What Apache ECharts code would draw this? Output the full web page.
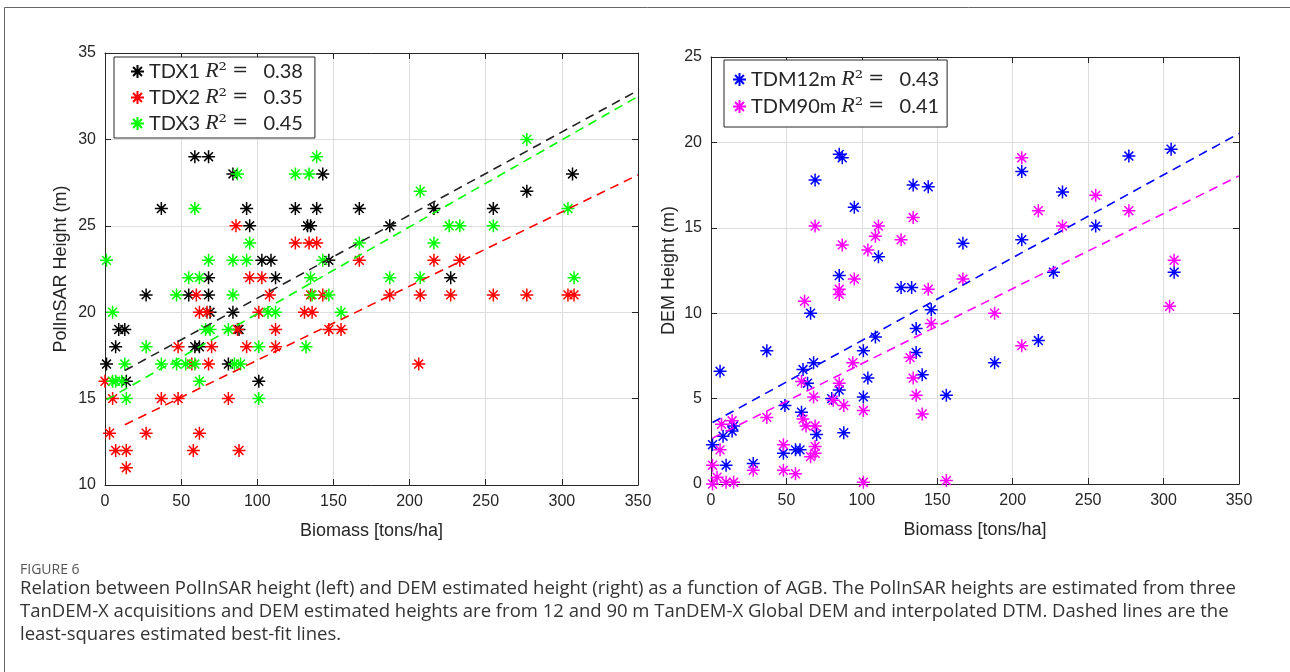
<!DOCTYPE html>
<html>
<head>
<meta charset="utf-8">
<script src="https://cdn.jsdelivr.net/npm/echarts@6/dist/echarts.min.js"></script>
<style>
  html, body { margin: 0; padding: 0; background: #ffffff; }
  #chart { width: 1290px; height: 672px; }
</style>
</head>
<body>
<div id="chart"></div>
<script>
// ---- PolInSAR heights (m) against biomass (tons/ha) ----
const tdxNames = ['TDX1', 'TDX2', 'TDX3'];
const tdxColors = ['#000000', '#ff0000', '#00ff00'];
const tdxR2 = ['0.38', '0.35', '0.45'];
const tdx1 = [[59,29],[68,29],[84,28],[143,28],[307,28],[277,27],[37,26],[93,26],[125,26],[139,26],[167,26],[216,26],[255,26],
  [95,25],[133,25],[135,25],[187,25],[103,23],[109,23],[147,23],[68,22],[112,22],[227,22],[27,21],[55,21],[68,21],
  [69,20],[84,20],[9,19],[13,19],[88,19],[7,18],[59,18],[62,18],[1,17],[81,17],[14,16],[101,16]];
const tdx2 = [[86,25],[125,24],[134,24],[139,24],[167,23],[216,23],[233,23],[95,22],[103,22],[60,21],[108,21],[135,21],
  [143,21],[187,21],[207,21],[227,21],[255,21],[277,21],[304,21],[308,21],[62,20],[67,20],[101,20],[131,20],[136,20],
  [87,19],[112,19],[147,19],[155,19],[48,18],[70,18],[93,18],[112,18],[57,17],[68,17],[206,17],[0,16],[5,15],[37,15],
  [48,15],[81,15],[3,13],[27,13],[62,13],[7,12],[14,12],[58,12],[88,12],[14,11]];
const tdx3 = [[277,30],[139,29],[87,28],[125,28],[134,28],[207,27],[59,26],[304,26],[226,25],[233,25],[255,25],[95,24],
  [167,24],[216,24],[1,23],[68,23],[84,23],[93,23],[143,23],[55,22],[62,22],[135,22],[187,22],[207,22],[308,22],
  [47,21],[84,21],[136,21],[147,21],[5,20],[107,20],[112,20],[155,20],[66,19],[69,19],[81,19],[27,18],[101,18],
  [132,18],[13,17],[37,17],[47,17],[53,17],[59,17],[85,17],[89,17],[5,16],[7,16],[11,16],[62,16],[14,15],[101,15]];
// least-squares lines: height = intercept + slope * biomass, drawn from xStart to the axis end
const tdxFitIntercept = [16.0, 12.93, 14.88];
const tdxFitSlope = [0.0481, 0.0429, 0.0503];
const tdxFitStart = [13, 13, 1];

// ---- DEM heights (m) against biomass (tons/ha) ----
const tdmNames = ['TDM12m', 'TDM90m'];
const tdmColors = ['#0000ff', '#ff00ff'];
const tdmR2 = ['0.43', '0.41'];
const tdm12 = [[85,19.3],[87,19.1],[69,17.8],[95,16.2],[111,13.3],[85,12.2],[66,10.0],[109,8.6],[101,7.8],[37,7.8],
  [6,6.6],[61,6.7],[68,7.1],[104,6.2],[64,5.9],[85,5.5],[101,5.1],[80,5.0],[49,4.6],[60,4.2],[15,3.4],[14,3.1],
  [70,2.9],[88,3.0],[1,2.3],[8,2.8],[48,1.8],[56,2.0],[59,2.0],[10,1.1],[28,1.2],[206,18.3],[277,19.2],[305,19.6],
  [134,17.5],[144,17.4],[233,17.1],[255,15.1],[167,14.1],[206,14.3],[307,12.4],[227,12.4],[126,11.5],[133,11.5],
  [146,10.2],[136,9.1],[217,8.4],[136,7.7],[188,7.1],[140,6.4],[156,5.2]];
const tdm90 = [[69,15.1],[87,14.0],[104,13.7],[109,14.5],[111,15.1],[95,12.0],[85,11.4],[85,11.1],[62,10.7],[94,7.1],
  [60,6.0],[85,5.9],[68,5.1],[81,4.9],[88,4.6],[101,4.3],[37,3.9],[61,3.8],[7,3.5],[14,3.7],[63,3.4],[69,3.4],[6,2.0],
  [48,2.3],[69,2.2],[69,1.8],[66,1.6],[1,1.1],[28,0.8],[48,0.8],[56,0.6],[4,0.4],[1,0],[10,0.1],[15,0.1],[101,0.1],
  [206,19.1],[255,16.9],[217,16.0],[277,16.0],[134,15.6],[233,15.1],[126,14.3],[307,13.1],[167,12.0],[144,11.4],
  [304,10.4],[188,10.0],[146,9.4],[206,8.1],[132,7.4],[134,6.2],[136,5.2],[140,4.1],[156,0.2]];
const tdmFitIntercept = [3.55, 2.64];
const tdmFitSlope = [0.0485, 0.044];
const tdmFitStart = [1, 1];

// ---- axis ranges ----
const biomassMax = 350, biomassStep = 50;
const leftYMin = 10, leftYMax = 35, leftYStep = 5;
const rightYMin = 0, rightYMax = 25, rightYStep = 5;

const captionTitle = 'FIGURE 6';
const captionLines = [
  'Relation between PolInSAR height (left) and DEM estimated height (right) as a function of AGB. The PolInSAR heights are estimated from three',
  'TanDEM-X acquisitions and DEM estimated heights are from 12 and 90 m TanDEM-X Global DEM and interpolated DTM. Dashed lines are the',
  'least-squares estimated best-fit lines.'
];

// asterisk marker: horizontal, vertical and two diagonal strokes
const asterisk = 'path://M5,0L5,10M0,5L10,5M1.6,1.6L8.4,8.4M1.6,8.4L8.4,1.6';
const axisInk = '#262626';
const gridInk = '#dddddd';
const axisFont = 'Liberation Sans';

function bottomAxis(grid, name) {
  return {
    gridIndex: grid, type: 'value', position: 'bottom', min: 0, max: biomassMax, interval: biomassStep,
    name: name, nameLocation: 'middle', nameGap: 37,
    nameTextStyle: { fontFamily: axisFont, fontSize: 18, color: axisInk },
    axisLine: { show: true, onZero: false, lineStyle: { color: axisInk, width: 1 } },
    axisTick: { show: true, inside: true, length: 6, lineStyle: { color: axisInk } },
    axisLabel: { fontFamily: axisFont, fontSize: 16, color: axisInk, margin: 9 },
    splitLine: { show: true, lineStyle: { color: gridInk, width: 1 } }
  };
}
function topAxis(grid) {
  return {
    gridIndex: grid, type: 'value', position: 'top', min: 0, max: biomassMax, interval: biomassStep,
    axisLine: { show: true, onZero: false, lineStyle: { color: axisInk, width: 1 } },
    axisTick: { show: true, inside: true, length: 6, lineStyle: { color: axisInk } },
    axisLabel: { show: false }, splitLine: { show: false }
  };
}
function leftAxis(grid, min, max, step, name, gap) {
  return {
    gridIndex: grid, type: 'value', position: 'left', min: min, max: max, interval: step,
    name: name, nameLocation: 'middle', nameGap: gap, nameRotate: 90,
    nameTextStyle: { fontFamily: axisFont, fontSize: 18, color: axisInk },
    axisLine: { show: true, onZero: false, lineStyle: { color: axisInk, width: 1 } },
    axisTick: { show: true, inside: true, length: 6, lineStyle: { color: axisInk } },
    axisLabel: { fontFamily: axisFont, fontSize: 16, color: axisInk, margin: 9 },
    splitLine: { show: true, lineStyle: { color: gridInk, width: 1 } }
  };
}
function rightAxis(grid, min, max, step) {
  return {
    gridIndex: grid, type: 'value', position: 'right', min: min, max: max, interval: step,
    axisLine: { show: true, onZero: false, lineStyle: { color: axisInk, width: 1 } },
    axisTick: { show: true, inside: true, length: 6, lineStyle: { color: axisInk } },
    axisLabel: { show: false }, splitLine: { show: false }
  };
}

function scatter(name, data, color, xi, yi) {
  return {
    name: name, type: 'scatter', xAxisIndex: xi, yAxisIndex: yi, data: data,
    symbol: asterisk, symbolSize: 13,
    itemStyle: { color: 'rgba(0,0,0,0)', borderColor: color, borderWidth: 1.5, opacity: 1 },
    emphasis: { disabled: true }, silent: true, z: 3
  };
}
function fitLine(intercept, slope, start, color, xi, yi) {
  return {
    type: 'line', xAxisIndex: xi, yAxisIndex: yi,
    data: [[start, intercept + slope * start], [biomassMax, intercept + slope * biomassMax]],
    showSymbol: false, symbol: 'none', silent: true, z: 4,
    lineStyle: { color: color, width: 1.6, type: [9, 6] }
  };
}

const richLegend = {
  it: { fontFamily: 'Liberation Serif', fontStyle: 'italic', fontSize: 22, color: axisInk, lineHeight: 25 },
  sup: { fontFamily: 'DejaVu Serif', fontSize: 21, color: axisInk, lineHeight: 25 },
  eq: { fontFamily: 'DejaVu Serif', fontSize: 19, color: axisInk, lineHeight: 25 }
};
function legendText(names, values, gap) {
  return n => n + ' {it|R}{sup|\u00b2} {eq|=}' + gap + values[names.indexOf(n)];
}

const series = [];
[tdx1, tdx2, tdx3].forEach((d, i) => series.push(scatter(tdxNames[i], d, tdxColors[i], 0, 0)));
[tdm12, tdm90].forEach((d, i) => series.push(scatter(tdmNames[i], d, tdmColors[i], 2, 2)));
tdxFitIntercept.forEach((b, i) => series.push(fitLine(b, tdxFitSlope[i], tdxFitStart[i], i === 0 ? '#222222' : tdxColors[i], 0, 0)));
tdmFitIntercept.forEach((b, i) => series.push(fitLine(b, tdmFitSlope[i], tdmFitStart[i], tdmColors[i], 2, 2)));

const captionGraphics = [
  { type: 'polyline', shape: { points: [[4.5, 672], [4.5, 7.5], [1290, 7.5]] }, style: { stroke: '#666666', lineWidth: 1, fill: null }, silent: true },
  { type: 'text', left: 20, top: 563, style: { text: captionTitle, fontFamily: 'Open Sans', fontSize: 14, fill: '#555555' }, silent: true }
];
captionLines.forEach((t, i) => captionGraphics.push({
  type: 'text', left: 20, top: 579 + i * 23,
  style: { text: t, fontFamily: 'Open Sans', fontSize: 18.5, fill: '#333333' }, silent: true
}));

const chart = echarts.init(document.getElementById('chart'), null, { renderer: 'canvas' });
chart.setOption({
  animation: false,
  backgroundColor: '#ffffff',
  grid: [
    { left: 105, top: 53, width: 533, height: 432, outerBoundsMode: 'none', containLabel: false },
    { left: 711, top: 57, width: 528, height: 427, outerBoundsMode: 'none', containLabel: false }
  ],
  xAxis: [bottomAxis(0, 'Biomass [tons/ha]'), topAxis(0), bottomAxis(1, 'Biomass [tons/ha]'), topAxis(1)],
  yAxis: [
    leftAxis(0, leftYMin, leftYMax, leftYStep, 'PolInSAR Height (m)', 35), rightAxis(0, leftYMin, leftYMax, leftYStep),
    leftAxis(1, rightYMin, rightYMax, rightYStep, 'DEM Height (m)', 33), rightAxis(1, rightYMin, rightYMax, rightYStep)
  ],
  legend: [
    {
      data: tdxNames, left: 114, top: 57, orient: 'vertical', itemGap: 1, itemWidth: 13, itemHeight: 13,
      backgroundColor: '#ffffff', borderColor: axisInk, borderWidth: 1, borderRadius: 0, padding: [2, 12, 2, 16],
      selectedMode: false, formatter: legendText(tdxNames, tdxR2, '   '),
      textStyle: { fontFamily: 'Lato', fontSize: 20, color: axisInk, lineHeight: 25, rich: richLegend }
    },
    {
      data: tdmNames, left: 724, top: 60, orient: 'vertical', itemGap: 2, itemWidth: 13, itemHeight: 13,
      backgroundColor: '#ffffff', borderColor: axisInk, borderWidth: 1, borderRadius: 0, padding: [7, 8, 8, 8],
      selectedMode: false, formatter: legendText(tdmNames, tdmR2, '   '),
      textStyle: { fontFamily: 'Lato', fontSize: 20, color: axisInk, lineHeight: 25, rich: richLegend }
    }
  ],
  graphic: captionGraphics,
  series: series
});
</script>
</body>
</html>
